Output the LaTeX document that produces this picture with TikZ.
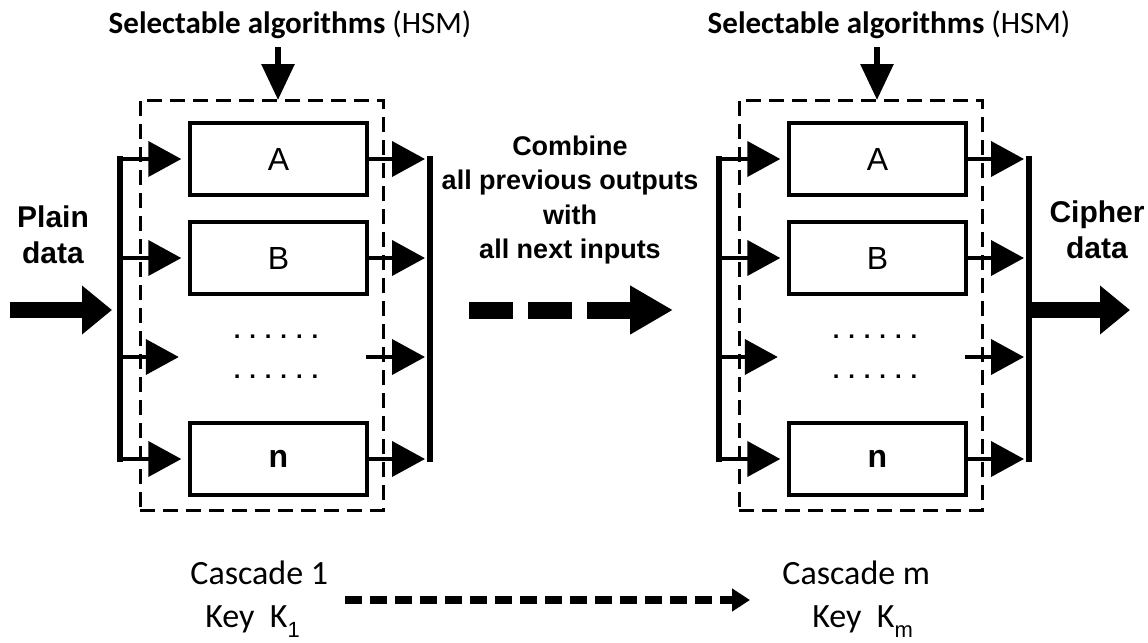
\documentclass[tikz,border=0pt]{standalone}
\usepackage{fontspec}
\setmainfont{Carlito}
\newfontfamily\arialfont{Liberation Sans}
\usetikzlibrary{arrows.meta,positioning}

\newcommand{\keysub}[1]{\raisebox{-5pt}{\arialfont\fontsize{11}{11}\selectfont #1}}

\tikzset{
  frame/.style={draw, line width=1.5pt, dash pattern=on 7.5pt off 4pt, minimum width=121.5pt, minimum height=205pt, inner sep=0pt},
  algobox/.style={draw, line width=1.7pt, minimum width=88.5pt, minimum height=36pt, inner sep=0pt, font=\arialfont\fontsize{16}{16}\selectfont},
  dotsbox/.style={algobox, draw=none, align=center, font=\arialfont\bfseries\fontsize{12}{20}\selectfont},
  seltext/.style={inner sep=0pt, font=\fontsize{15.5}{18}\selectfont},
  castext/.style={inner sep=0pt, font=\fontsize{17}{18}\selectfont},
  iotext/.style={inner sep=0pt, align=center, font=\arialfont\bfseries\fontsize{15}{18}\selectfont},
  midtext/.style={inner sep=0pt, align=center, font=\arialfont\bfseries\fontsize{13.5}{17.3}\selectfont},
  bus/.style={line width=3pt, line cap=rect},
  smallarrow/.style={line width=2pt, -{Triangle[length=16.5pt,width=17.5pt]}},
  toparrow/.style={line width=3pt, -{Triangle[length=18pt,width=16pt]}},
  bigarrow/.style={line width=8pt, -{Triangle[length=15pt,width=23.5pt]}},
  middash/.style={line width=8.5pt, dash pattern=on 22pt off 7.5pt, -{Triangle[length=21.5pt,width=23pt]}},
  keyarrow/.style={line width=4pt, dash pattern=on 8.5pt off 4pt, -{Triangle[length=9pt,width=11pt]}}
}

\begin{document}
\begin{tikzpicture}[x=0.5pt, y=-0.5pt]
  \useasboundingbox (0,0) rectangle (1148,643);
  % Cascate
  \foreach \c/\dx in {1/0, m/599} {
    \begin{scope}[shift={(\dx,0)}]
      \node[frame] (frame\c) at (261.5,305) {};
      \node[seltext] (sel\c) at (290,25) {\textbf{Selectable algorithms} (HSM)};
      \coordinate (top\c) at (278,100);
      \draw[toparrow, shorten <=4pt] (top\c |- sel\c.south) -- (top\c);
      \node[algobox] (A\c) at (278.5,159) {A};
      \node[algobox] (B\c) at (278.5,258) {B};
      \node[dotsbox] (D\c) at (276,357) {. . . . . .\\. . . . . .};
      \node[algobox] (N\c) at (278.5,459) {\bfseries n};
      \coordinate (inbus\c) at (120,0);
      \coordinate (outbus\c) at (430,0);
      \draw[bus] (A\c.west -| inbus\c) -- (N\c.west -| inbus\c);
      \draw[bus] (A\c.east -| outbus\c) -- (N\c.east -| outbus\c);
      \foreach \r in {A,B,D,N} {
        \draw[smallarrow, shorten >=3.5pt] (\r\c.west -| inbus\c) -- (\r\c.west);
        \draw[smallarrow, shorten >=2.5pt] (\r\c.east) -- (\r\c.east -| outbus\c);
      }
    \end{scope}
  }
  % Ingresso e uscita
  \node[iotext] (plain) at (53,235) {Plain\\data};
  \node[iotext] (cipher) at (1097,230) {Cipher\\data};
  \coordinate (in) at (10,310);
  \coordinate (out) at (1130,310);
  \draw[bigarrow, shorten >=4pt] (in) -- (in -| inbus1);
  \draw[bigarrow] (in -| outbusm) -- (out);
  % Combinazione
  \node[midtext] (combine) at (570,200) {Combine\\all previous outputs\\with\\all next inputs};
  \coordinate (mid1) at (469,310);
  \coordinate (mid2) at (673,310);
  \draw[middash] (mid1) -- (mid2);
  % Chiavi
  \node[castext, anchor=west] (cas1) at (190,573) {Cascade 1};
  \node[castext, anchor=west] (key1) at (205,622) {Key\ \ K\keysub{1}};
  \node[castext, anchor=west] (casm) at (782,573) {Cascade m};
  \node[castext, anchor=west] (keym) at (812,622) {Key\ \ K\keysub{m}};
  \coordinate (k1) at (345,600);
  \coordinate (km) at (750,600);
  \draw[keyarrow] (k1) -- (km);
\end{tikzpicture}
\end{document}
